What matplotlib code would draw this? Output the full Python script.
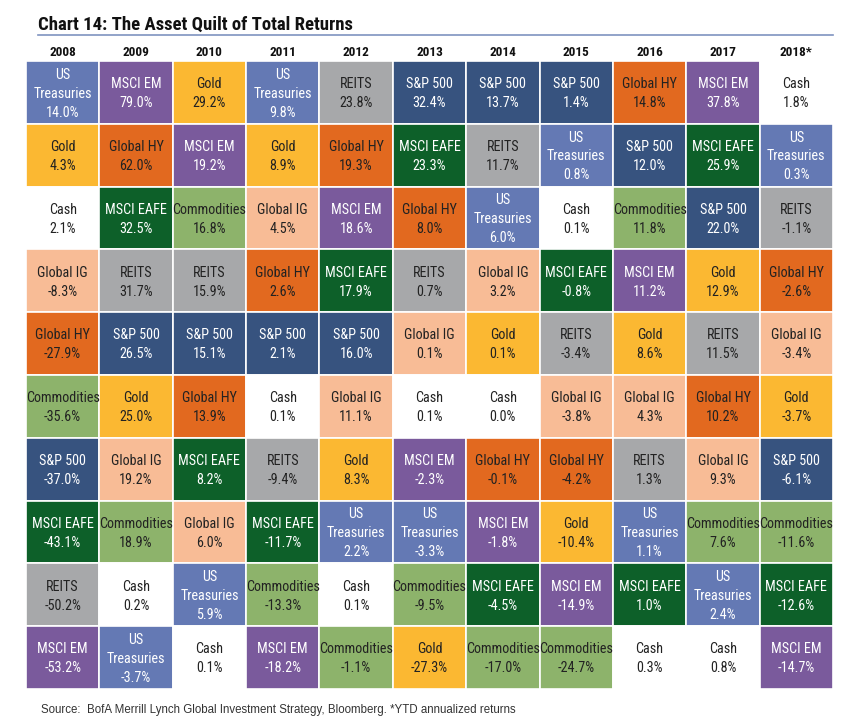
#!/usr/bin/env python3
import matplotlib
matplotlib.use('Agg')
import matplotlib.pyplot as plt
from matplotlib import font_manager
from matplotlib.font_manager import FontProperties
from matplotlib.lines import Line2D

years = ['2008', '2009', '2010', '2011', '2012', '2013', '2014', '2015', '2016', '2017', '2018*']

# best to worst, one list per year
names = [
    ['US Treasuries', 'Gold', 'Cash', 'Global IG', 'Global HY', 'Commodities', 'S&P 500', 'MSCI EAFE', 'REITS', 'MSCI EM'],
    ['MSCI EM', 'Global HY', 'MSCI EAFE', 'REITS', 'S&P 500', 'Gold', 'Global IG', 'Commodities', 'Cash', 'US Treasuries'],
    ['Gold', 'MSCI EM', 'Commodities', 'REITS', 'S&P 500', 'Global HY', 'MSCI EAFE', 'Global IG', 'US Treasuries', 'Cash'],
    ['US Treasuries', 'Gold', 'Global IG', 'Global HY', 'S&P 500', 'Cash', 'REITS', 'MSCI EAFE', 'Commodities', 'MSCI EM'],
    ['REITS', 'Global HY', 'MSCI EM', 'MSCI EAFE', 'S&P 500', 'Global IG', 'Gold', 'US Treasuries', 'Cash', 'Commodities'],
    ['S&P 500', 'MSCI EAFE', 'Global HY', 'REITS', 'Global IG', 'Cash', 'MSCI EM', 'US Treasuries', 'Commodities', 'Gold'],
    ['S&P 500', 'REITS', 'US Treasuries', 'Global IG', 'Gold', 'Cash', 'Global HY', 'MSCI EM', 'MSCI EAFE', 'Commodities'],
    ['S&P 500', 'US Treasuries', 'Cash', 'MSCI EAFE', 'REITS', 'Global IG', 'Global HY', 'Gold', 'MSCI EM', 'Commodities'],
    ['Global HY', 'S&P 500', 'Commodities', 'MSCI EM', 'Gold', 'Global IG', 'REITS', 'US Treasuries', 'MSCI EAFE', 'Cash'],
    ['MSCI EM', 'MSCI EAFE', 'S&P 500', 'Gold', 'REITS', 'Global HY', 'Global IG', 'Commodities', 'US Treasuries', 'Cash'],
    ['Cash', 'US Treasuries', 'REITS', 'Global HY', 'Global IG', 'Gold', 'S&P 500', 'Commodities', 'MSCI EAFE', 'MSCI EM'],
]
returns = [
    [14.0, 4.3, 2.1, -8.3, -27.9, -35.6, -37.0, -43.1, -50.2, -53.2],
    [79.0, 62.0, 32.5, 31.7, 26.5, 25.0, 19.2, 18.9, 0.2, -3.7],
    [29.2, 19.2, 16.8, 15.9, 15.1, 13.9, 8.2, 6.0, 5.9, 0.1],
    [9.8, 8.9, 4.5, 2.6, 2.1, 0.1, -9.4, -11.7, -13.3, -18.2],
    [23.8, 19.3, 18.6, 17.9, 16.0, 11.1, 8.3, 2.2, 0.1, -1.1],
    [32.4, 23.3, 8.0, 0.7, 0.1, 0.1, -2.3, -3.3, -9.5, -27.3],
    [13.7, 11.7, 6.0, 3.2, 0.1, 0.0, -0.1, -1.8, -4.5, -17.0],
    [1.4, 0.8, 0.1, -0.8, -3.4, -3.8, -4.2, -10.4, -14.9, -24.7],
    [14.8, 12.0, 11.8, 11.2, 8.6, 4.3, 1.3, 1.1, 1.0, 0.3],
    [37.8, 25.9, 22.0, 12.9, 11.5, 10.2, 9.3, 7.6, 2.4, 0.8],
    [1.8, 0.3, -1.1, -2.6, -3.4, -3.7, -6.1, -11.6, -12.6, -14.7],
]

# fill colour, text colour
STYLE = {
    'US Treasuries': ('#6479b4', 'white'),
    'MSCI EM':       ('#7a5a9c', 'white'),
    'Gold':          ('#fbb832', '#222222'),
    'REITS':         ('#a7a8aa', '#222222'),
    'S&P 500':       ('#37537f', 'white'),
    'Global HY':     ('#e2691f', '#222222'),
    'MSCI EAFE':     ('#0d6029', 'white'),
    'Commodities':   ('#8db36b', '#222222'),
    'Global IG':     ('#f8bc96', '#222222'),
    'Cash':          ('white', '#222222'),
}


def _wt(f):
    w = f.weight
    if isinstance(w, str):
        w = 700 if 'bold' in w.lower() else 400
    return w


def narrow_font(bold):
    # look for any condensed / narrow face that happens to be installed
    pref = ['Liberation Sans Narrow', 'Roboto Condensed', 'DejaVu Sans', 'Open Sans Condensed',
            'Noto Sans', 'Arial Narrow']
    found = []
    for f in font_manager.fontManager.ttflist:
        st = str(f.stretch).lower()
        narrowish = ('narrow' in f.name.lower() or 'condensed' in f.name.lower()
                     or 'condensed' in st or 'narrow' in f.fname.lower()
                     or 'condensed' in f.fname.lower())
        if not narrowish or f.style != 'normal':
            continue
        if (_wt(f) >= 600) != bold:
            continue
        rank = next((i for i, p in enumerate(pref) if f.name.startswith(p)), len(pref))
        found.append((rank, f.fname))
    if found:
        return FontProperties(fname=sorted(found)[0][1]), True
    return FontProperties(family='Liberation Sans', weight='bold' if bold else 'normal'), False


fp_reg, ok_reg = narrow_font(False)
fp_bold, ok_bold = narrow_font(True)
cell_size = 10.2 if ok_reg else 8.3

W, H = 860, 723
fig = plt.figure(figsize=(W / 100, H / 100), dpi=100)
x0, x1, y0, y1 = 26, 833, 61, 689
ax = fig.add_axes([x0 / W, 1 - y1 / H, (x1 - x0) / W, (y1 - y0) / H])
ax.set_xlim(0, len(years))
ax.set_ylim(10, 0)
ax.axis('off')

for col, (yr_names, yr_vals) in enumerate(zip(names, returns)):
    for row, (nm, v) in enumerate(zip(yr_names, yr_vals)):
        fc, tc = STYLE[nm]
        ax.bar(col, 1, bottom=row, width=1, align='edge', color=fc,
               edgecolor='white', linewidth=1.2)
        label = nm.replace('US ', 'US\n') + '\n%.1f%%' % v
        ax.text(col + 0.5, row + 0.52, label, ha='center', va='center',
                color=tc, fontproperties=fp_reg, fontsize=cell_size, linespacing=1.45)
    ax.text(col + 0.5, -0.13, years[col], ha='center', va='center',
            fontproperties=fp_bold, fontsize=9.5 if ok_bold else 8.8,
            fontweight='bold', color='#111111')

fig.text(38 / W, 1 - 25 / H, 'Chart 14: The Asset Quilt of Total Returns',
         ha='left', va='center', fontproperties=fp_bold,
         fontsize=13.5 if ok_bold else 11.5, fontweight='bold', color='#111111')
fig.add_artist(Line2D([38 / W, 833 / W], [1 - 35 / H, 1 - 35 / H],
                      color='#7f93c0', linewidth=1.2))
fig.text(41 / W, 1 - 710 / H,
         'Source:  BofA Merrill Lynch Global Investment Strategy, Bloomberg. *YTD annualized returns',
         ha='left', va='center', fontsize=8.3, color='#333333', family='Liberation Sans')

fig.savefig('out.png', dpi=100, facecolor='white')
